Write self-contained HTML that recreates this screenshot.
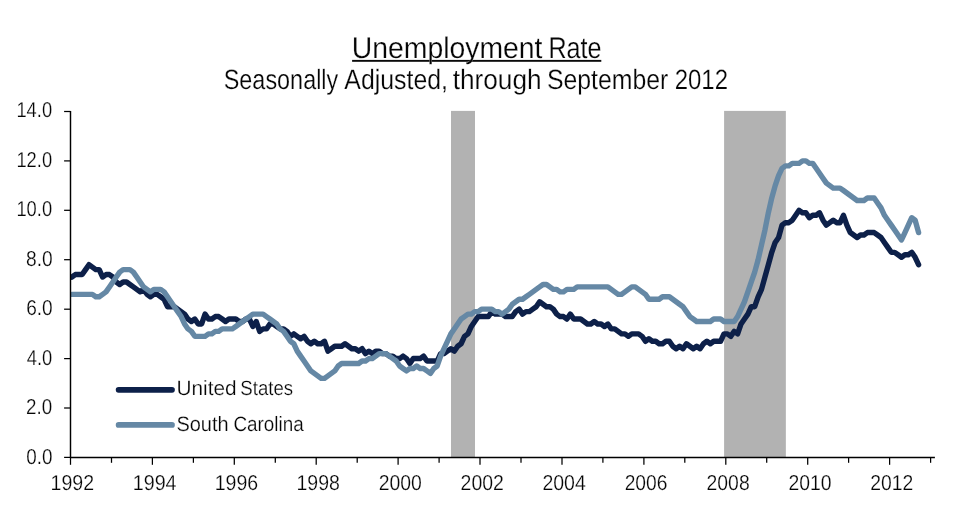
<!DOCTYPE html>
<html><head><meta charset="utf-8"><title>Unemployment Rate</title>
<style>
html,body{margin:0;padding:0;background:#ffffff;}
body{width:973px;height:521px;overflow:hidden;font-family:"Liberation Sans",sans-serif;}
svg{display:block;}
</style></head><body>
<svg width="973" height="521" viewBox="0 0 973 521">
<rect width="973" height="521" fill="#ffffff"/>
<rect x="451.0" y="110.9" width="24" height="346.5" fill="#b2b2b2"/>
<rect x="724.1" y="110.9" width="61.75" height="346.5" fill="#b2b2b2"/>
<clipPath id="cp"><rect x="70.5" y="100" width="880" height="360"/></clipPath><g clip-path="url(#cp)" fill="none" stroke-width="5.4" stroke-linejoin="round" stroke-linecap="round">
<path d="M71.90,277.04 L75.31,274.57 L78.73,274.57 L82.14,274.57 L85.56,269.63 L88.97,264.68 L92.38,267.15 L95.80,269.63 L99.21,269.63 L102.63,277.04 L106.04,274.57 L109.45,274.57 L112.87,277.04 L116.28,281.98 L119.70,284.45 L123.11,281.98 L126.52,281.98 L129.94,284.45 L133.35,286.92 L136.77,289.39 L140.18,291.86 L143.59,289.39 L147.01,294.33 L150.42,296.80 L153.84,294.33 L157.25,294.33 L160.66,296.80 L164.08,299.27 L167.49,306.69 L170.91,306.69 L174.32,306.69 L177.73,309.16 L181.15,311.63 L184.56,314.10 L187.98,319.04 L191.39,321.51 L194.80,319.04 L198.22,323.98 L201.63,323.98 L205.05,314.10 L208.46,319.04 L211.87,319.04 L215.29,316.57 L218.70,316.57 L222.12,319.04 L225.53,321.51 L228.94,319.04 L232.36,319.04 L235.77,319.04 L239.19,321.51 L242.60,321.51 L246.01,319.04 L249.43,319.04 L252.84,326.45 L256.26,321.51 L259.67,331.39 L263.08,328.92 L266.50,328.92 L269.91,323.98 L273.33,323.98 L276.74,326.45 L280.15,328.92 L283.57,328.92 L286.98,331.39 L290.40,336.33 L293.81,333.86 L297.22,336.33 L300.64,338.81 L304.05,336.33 L307.47,341.28 L310.88,343.75 L314.29,341.28 L317.71,343.75 L321.12,343.75 L324.54,341.28 L327.95,351.16 L331.36,348.69 L334.78,346.22 L338.19,346.22 L341.61,346.22 L345.02,343.75 L348.43,346.22 L351.85,348.69 L355.26,348.69 L358.68,351.16 L362.09,348.69 L365.50,353.63 L368.92,351.16 L372.33,353.63 L375.75,351.16 L379.16,351.16 L382.57,353.63 L385.99,353.63 L389.40,356.10 L392.82,356.10 L396.23,358.57 L399.64,358.57 L403.06,356.10 L406.47,358.57 L409.89,363.51 L413.30,358.57 L416.71,358.57 L420.13,358.57 L423.54,356.10 L426.96,361.04 L430.37,361.04 L433.78,361.04 L437.20,361.04 L440.61,353.63 L444.03,353.63 L447.44,351.16 L450.85,348.69 L454.27,351.16 L457.68,346.22 L461.10,343.75 L464.51,336.33 L467.92,333.86 L471.34,326.45 L474.75,321.51 L478.17,316.57 L481.58,316.57 L484.99,316.57 L488.41,316.57 L491.82,311.63 L495.24,314.10 L498.65,314.10 L502.06,314.10 L505.48,316.57 L508.89,316.57 L512.31,316.57 L515.72,311.63 L519.13,309.16 L522.55,314.10 L525.96,311.63 L529.38,311.63 L532.79,309.16 L536.20,306.69 L539.62,301.75 L543.03,304.22 L546.45,306.69 L549.86,306.69 L553.27,309.16 L556.69,314.10 L560.10,316.57 L563.52,316.57 L566.93,319.04 L570.34,314.10 L573.76,319.04 L577.17,319.04 L580.59,319.04 L584.00,321.51 L587.41,323.98 L590.83,323.98 L594.24,321.51 L597.66,323.98 L601.07,323.98 L604.48,326.45 L607.90,323.98 L611.31,328.92 L614.73,328.92 L618.14,331.39 L621.55,333.86 L624.97,333.86 L628.38,336.33 L631.80,333.86 L635.21,333.86 L638.62,333.86 L642.04,336.33 L645.45,341.28 L648.87,338.81 L652.28,341.28 L655.69,341.28 L659.11,343.75 L662.52,343.75 L665.94,341.28 L669.35,341.28 L672.76,346.22 L676.18,348.69 L679.59,346.22 L683.01,348.69 L686.42,343.75 L689.83,346.22 L693.25,348.69 L696.66,346.22 L700.08,348.69 L703.49,343.75 L706.90,341.28 L710.32,343.75 L713.73,341.28 L717.15,341.28 L720.56,341.28 L723.97,333.86 L727.39,333.86 L730.80,336.33 L734.22,331.39 L737.63,333.86 L741.04,323.98 L744.46,319.04 L747.87,314.10 L751.29,306.69 L754.70,306.69 L758.11,296.80 L761.53,289.39 L764.94,277.04 L768.36,264.68 L771.77,252.33 L775.18,242.45 L778.60,237.51 L782.01,225.15 L785.43,222.68 L788.84,222.68 L792.25,220.21 L795.67,215.27 L799.08,210.33 L802.50,212.80 L805.91,212.80 L809.32,217.74 L812.74,215.27 L816.15,215.27 L819.57,212.80 L822.98,220.21 L826.39,225.15 L829.81,222.68 L833.22,220.21 L836.64,222.68 L840.05,222.68 L843.46,215.27 L846.88,225.15 L850.29,232.56 L853.71,235.04 L857.12,237.51 L860.53,235.04 L863.95,235.04 L867.36,232.56 L870.78,232.56 L874.19,232.56 L877.60,235.04 L881.02,237.51 L884.43,242.45 L887.85,247.39 L891.26,252.33 L894.67,252.33 L898.09,254.80 L901.50,257.27 L904.92,254.80 L908.33,254.80 L911.74,252.33 L915.16,257.27 L918.57,264.68" stroke="#0d2049"/>
<path d="M71.90,294.33 L75.31,294.33 L78.73,294.33 L82.14,294.33 L85.56,294.33 L88.97,294.33 L92.38,294.33 L95.80,296.80 L99.21,296.80 L102.63,294.33 L106.04,291.86 L109.45,286.92 L112.87,281.98 L116.28,277.04 L119.70,272.10 L123.11,269.63 L126.52,269.63 L129.94,269.63 L133.35,272.10 L136.77,277.04 L140.18,281.98 L143.59,286.92 L147.01,289.39 L150.42,291.86 L153.84,289.39 L157.25,289.39 L160.66,289.39 L164.08,291.86 L167.49,296.80 L170.91,301.75 L174.32,306.69 L177.73,311.63 L181.15,316.57 L184.56,323.98 L187.98,328.92 L191.39,331.39 L194.80,336.33 L198.22,336.33 L201.63,336.33 L205.05,336.33 L208.46,333.86 L211.87,333.86 L215.29,331.39 L218.70,331.39 L222.12,328.92 L225.53,328.92 L228.94,328.92 L232.36,328.92 L235.77,326.45 L239.19,323.98 L242.60,321.51 L246.01,319.04 L249.43,316.57 L252.84,314.10 L256.26,314.10 L259.67,314.10 L263.08,314.10 L266.50,316.57 L269.91,319.04 L273.33,321.51 L276.74,323.98 L280.15,328.92 L283.57,331.39 L286.98,336.33 L290.40,341.28 L293.81,343.75 L297.22,351.16 L300.64,356.10 L304.05,361.04 L307.47,365.98 L310.88,370.92 L314.29,373.40 L317.71,375.87 L321.12,378.34 L324.54,378.34 L327.95,375.87 L331.36,373.40 L334.78,370.92 L338.19,365.98 L341.61,363.51 L345.02,363.51 L348.43,363.51 L351.85,363.51 L355.26,363.51 L358.68,363.51 L362.09,361.04 L365.50,361.04 L368.92,358.57 L372.33,358.57 L375.75,356.10 L379.16,353.63 L382.57,353.63 L385.99,353.63 L389.40,356.10 L392.82,358.57 L396.23,361.04 L399.64,365.98 L403.06,368.45 L406.47,370.92 L409.89,368.45 L413.30,368.45 L416.71,365.98 L420.13,368.45 L423.54,368.45 L426.96,370.92 L430.37,373.40 L433.78,368.45 L437.20,365.98 L440.61,356.10 L444.03,348.69 L447.44,341.28 L450.85,333.86 L454.27,328.92 L457.68,323.98 L461.10,319.04 L464.51,316.57 L467.92,314.10 L471.34,314.10 L474.75,311.63 L478.17,311.63 L481.58,309.16 L484.99,309.16 L488.41,309.16 L491.82,309.16 L495.24,311.63 L498.65,311.63 L502.06,314.10 L505.48,311.63 L508.89,309.16 L512.31,304.22 L515.72,301.75 L519.13,299.27 L522.55,299.27 L525.96,296.80 L529.38,294.33 L532.79,291.86 L536.20,289.39 L539.62,286.92 L543.03,284.45 L546.45,284.45 L549.86,286.92 L553.27,289.39 L556.69,289.39 L560.10,291.86 L563.52,291.86 L566.93,289.39 L570.34,289.39 L573.76,289.39 L577.17,286.92 L580.59,286.92 L584.00,286.92 L587.41,286.92 L590.83,286.92 L594.24,286.92 L597.66,286.92 L601.07,286.92 L604.48,286.92 L607.90,286.92 L611.31,289.39 L614.73,291.86 L618.14,294.33 L621.55,294.33 L624.97,291.86 L628.38,289.39 L631.80,286.92 L635.21,286.92 L638.62,289.39 L642.04,291.86 L645.45,294.33 L648.87,299.27 L652.28,299.27 L655.69,299.27 L659.11,299.27 L662.52,296.80 L665.94,296.80 L669.35,296.80 L672.76,299.27 L676.18,301.75 L679.59,304.22 L683.01,306.69 L686.42,311.63 L689.83,316.57 L693.25,319.04 L696.66,321.51 L700.08,321.51 L703.49,321.51 L706.90,321.51 L710.32,321.51 L713.73,319.04 L717.15,319.04 L720.56,319.04 L723.97,321.51 L727.39,321.51 L730.80,321.51 L734.22,321.51 L737.63,316.57 L741.04,309.16 L744.46,301.75 L747.87,291.86 L751.29,281.98 L754.70,272.10 L758.11,259.74 L761.53,244.92 L764.94,230.09 L768.36,212.80 L771.77,197.98 L775.18,185.62 L778.60,175.74 L782.01,168.33 L785.43,165.86 L788.84,165.86 L792.25,163.38 L795.67,163.38 L799.08,163.38 L802.50,160.91 L805.91,160.91 L809.32,163.38 L812.74,163.38 L816.15,168.33 L819.57,173.27 L822.98,178.21 L826.39,183.15 L829.81,185.62 L833.22,188.09 L836.64,188.09 L840.05,188.09 L843.46,190.56 L846.88,193.03 L850.29,195.50 L853.71,197.98 L857.12,200.45 L860.53,200.45 L863.95,200.45 L867.36,197.98 L870.78,197.98 L874.19,197.98 L877.60,202.92 L881.02,207.86 L884.43,215.27 L887.85,220.21 L891.26,225.15 L894.67,230.09 L898.09,235.04 L901.50,239.98 L904.92,232.56 L908.33,225.15 L911.74,217.74 L915.16,220.21 L918.57,232.56" stroke="#6588a5"/></g>
<g stroke="#000" stroke-width="1.45" fill="none">
<path d="M70.5,110.9 V457.4"/>
<path d="M69.9,457.4 H934.9"/>
</g><g stroke="#000" stroke-width="1.25" fill="none">
<path d="M64.1,457.4 H70.5"/>
<path d="M64.1,408.0 H70.5"/>
<path d="M64.1,358.6 H70.5"/>
<path d="M64.1,309.2 H70.5"/>
<path d="M64.1,259.7 H70.5"/>
<path d="M64.1,210.3 H70.5"/>
<path d="M64.1,160.9 H70.5"/>
<path d="M64.1,111.5 H70.5"/>
<path d="M70.5,457.4 V464.8"/>
<path d="M111.5,457.4 V462.8"/>
<path d="M152.4,457.4 V464.8"/>
<path d="M193.4,457.4 V462.8"/>
<path d="M234.3,457.4 V464.8"/>
<path d="M275.3,457.4 V462.8"/>
<path d="M316.2,457.4 V464.8"/>
<path d="M357.2,457.4 V462.8"/>
<path d="M398.1,457.4 V464.8"/>
<path d="M439.1,457.4 V462.8"/>
<path d="M480.0,457.4 V464.8"/>
<path d="M521.0,457.4 V462.8"/>
<path d="M562.0,457.4 V464.8"/>
<path d="M602.9,457.4 V462.8"/>
<path d="M643.9,457.4 V464.8"/>
<path d="M684.8,457.4 V462.8"/>
<path d="M725.8,457.4 V464.8"/>
<path d="M766.7,457.4 V462.8"/>
<path d="M807.7,457.4 V464.8"/>
<path d="M848.6,457.4 V462.8"/>
<path d="M889.6,457.4 V464.8"/>
<path d="M930.6,457.4 V462.8"/>
</g>
<path d="M118.6,389.85 H172.0" stroke="#0d2049" stroke-width="5.7" stroke-linecap="round"/>
<path d="M118.6,424.88 H172.0" stroke="#6588a5" stroke-width="5.7" stroke-linecap="round"/>
<rect x="352.1" y="59.9" width="249.2" height="1.9" fill="#0a0a0a"/>
<g fill="#050505" stroke="#ffffff" stroke-width="0.22" font-family="Liberation Sans, sans-serif" style="will-change:opacity" text-rendering="geometricPrecision">
<text x="351.78" y="57.7" font-size="29.8" textLength="190.74" lengthAdjust="spacingAndGlyphs">Unemployment</text>
<text x="548.41" y="57.7" font-size="29.8" textLength="53.04" lengthAdjust="spacingAndGlyphs">Rate</text>
<text x="223.74" y="89.0" font-size="27.9" textLength="114.53" lengthAdjust="spacingAndGlyphs">Seasonally</text>
<text x="344.32" y="89.0" font-size="27.9" textLength="103.66" lengthAdjust="spacingAndGlyphs">Adjusted,</text>
<text x="452.68" y="89.0" font-size="27.9" textLength="88.88" lengthAdjust="spacingAndGlyphs">through</text>
<text x="546.92" y="89.0" font-size="27.9" textLength="121.45" lengthAdjust="spacingAndGlyphs">September</text>
<text x="674.68" y="89.0" font-size="27.9" textLength="53.32" lengthAdjust="spacingAndGlyphs">2012</text>
<text x="176.43" y="395.4" font-size="20.6" textLength="60.16" lengthAdjust="spacingAndGlyphs">United</text>
<text x="240.35" y="395.4" font-size="20.6" textLength="52.72" lengthAdjust="spacingAndGlyphs">States</text>
<text x="176.42" y="430.7" font-size="20.8" textLength="52.22" lengthAdjust="spacingAndGlyphs">South</text>
<text x="233.40" y="430.7" font-size="20.8" textLength="70.23" lengthAdjust="spacingAndGlyphs">Carolina</text>
<text x="26.25" y="464.0" font-size="21.6" textLength="26.21" lengthAdjust="spacingAndGlyphs">0.0</text>
<text x="26.11" y="414.4" font-size="21.6" textLength="26.13" lengthAdjust="spacingAndGlyphs">2.0</text>
<text x="26.78" y="364.9" font-size="21.6" textLength="25.48" lengthAdjust="spacingAndGlyphs">4.0</text>
<text x="26.21" y="315.3" font-size="21.6" textLength="26.53" lengthAdjust="spacingAndGlyphs">6.0</text>
<text x="26.05" y="265.7" font-size="21.6" textLength="26.67" lengthAdjust="spacingAndGlyphs">8.0</text>
<text x="16.43" y="216.1" font-size="21.6" textLength="35.68" lengthAdjust="spacingAndGlyphs">10.0</text>
<text x="16.43" y="166.6" font-size="21.6" textLength="35.68" lengthAdjust="spacingAndGlyphs">12.0</text>
<text x="16.43" y="117.0" font-size="21.6" textLength="35.68" lengthAdjust="spacingAndGlyphs">14.0</text>
<text x="50.60" y="490.0" font-size="21.6" textLength="43.55" lengthAdjust="spacingAndGlyphs">1992</text>
<text x="132.75" y="490.0" font-size="21.6" textLength="43.79" lengthAdjust="spacingAndGlyphs">1994</text>
<text x="214.68" y="490.0" font-size="21.6" textLength="43.43" lengthAdjust="spacingAndGlyphs">1996</text>
<text x="296.51" y="490.0" font-size="21.6" textLength="43.40" lengthAdjust="spacingAndGlyphs">1998</text>
<text x="378.65" y="490.0" font-size="21.6" textLength="43.15" lengthAdjust="spacingAndGlyphs">2000</text>
<text x="460.55" y="490.0" font-size="21.6" textLength="43.33" lengthAdjust="spacingAndGlyphs">2002</text>
<text x="542.43" y="490.0" font-size="21.6" textLength="43.39" lengthAdjust="spacingAndGlyphs">2004</text>
<text x="624.66" y="490.0" font-size="21.6" textLength="42.78" lengthAdjust="spacingAndGlyphs">2006</text>
<text x="706.59" y="490.0" font-size="21.6" textLength="43.09" lengthAdjust="spacingAndGlyphs">2008</text>
<text x="788.43" y="490.0" font-size="21.6" textLength="43.14" lengthAdjust="spacingAndGlyphs">2010</text>
<text x="870.27" y="490.0" font-size="21.6" textLength="43.03" lengthAdjust="spacingAndGlyphs">2012</text>
</g>
</svg>
</body></html>
